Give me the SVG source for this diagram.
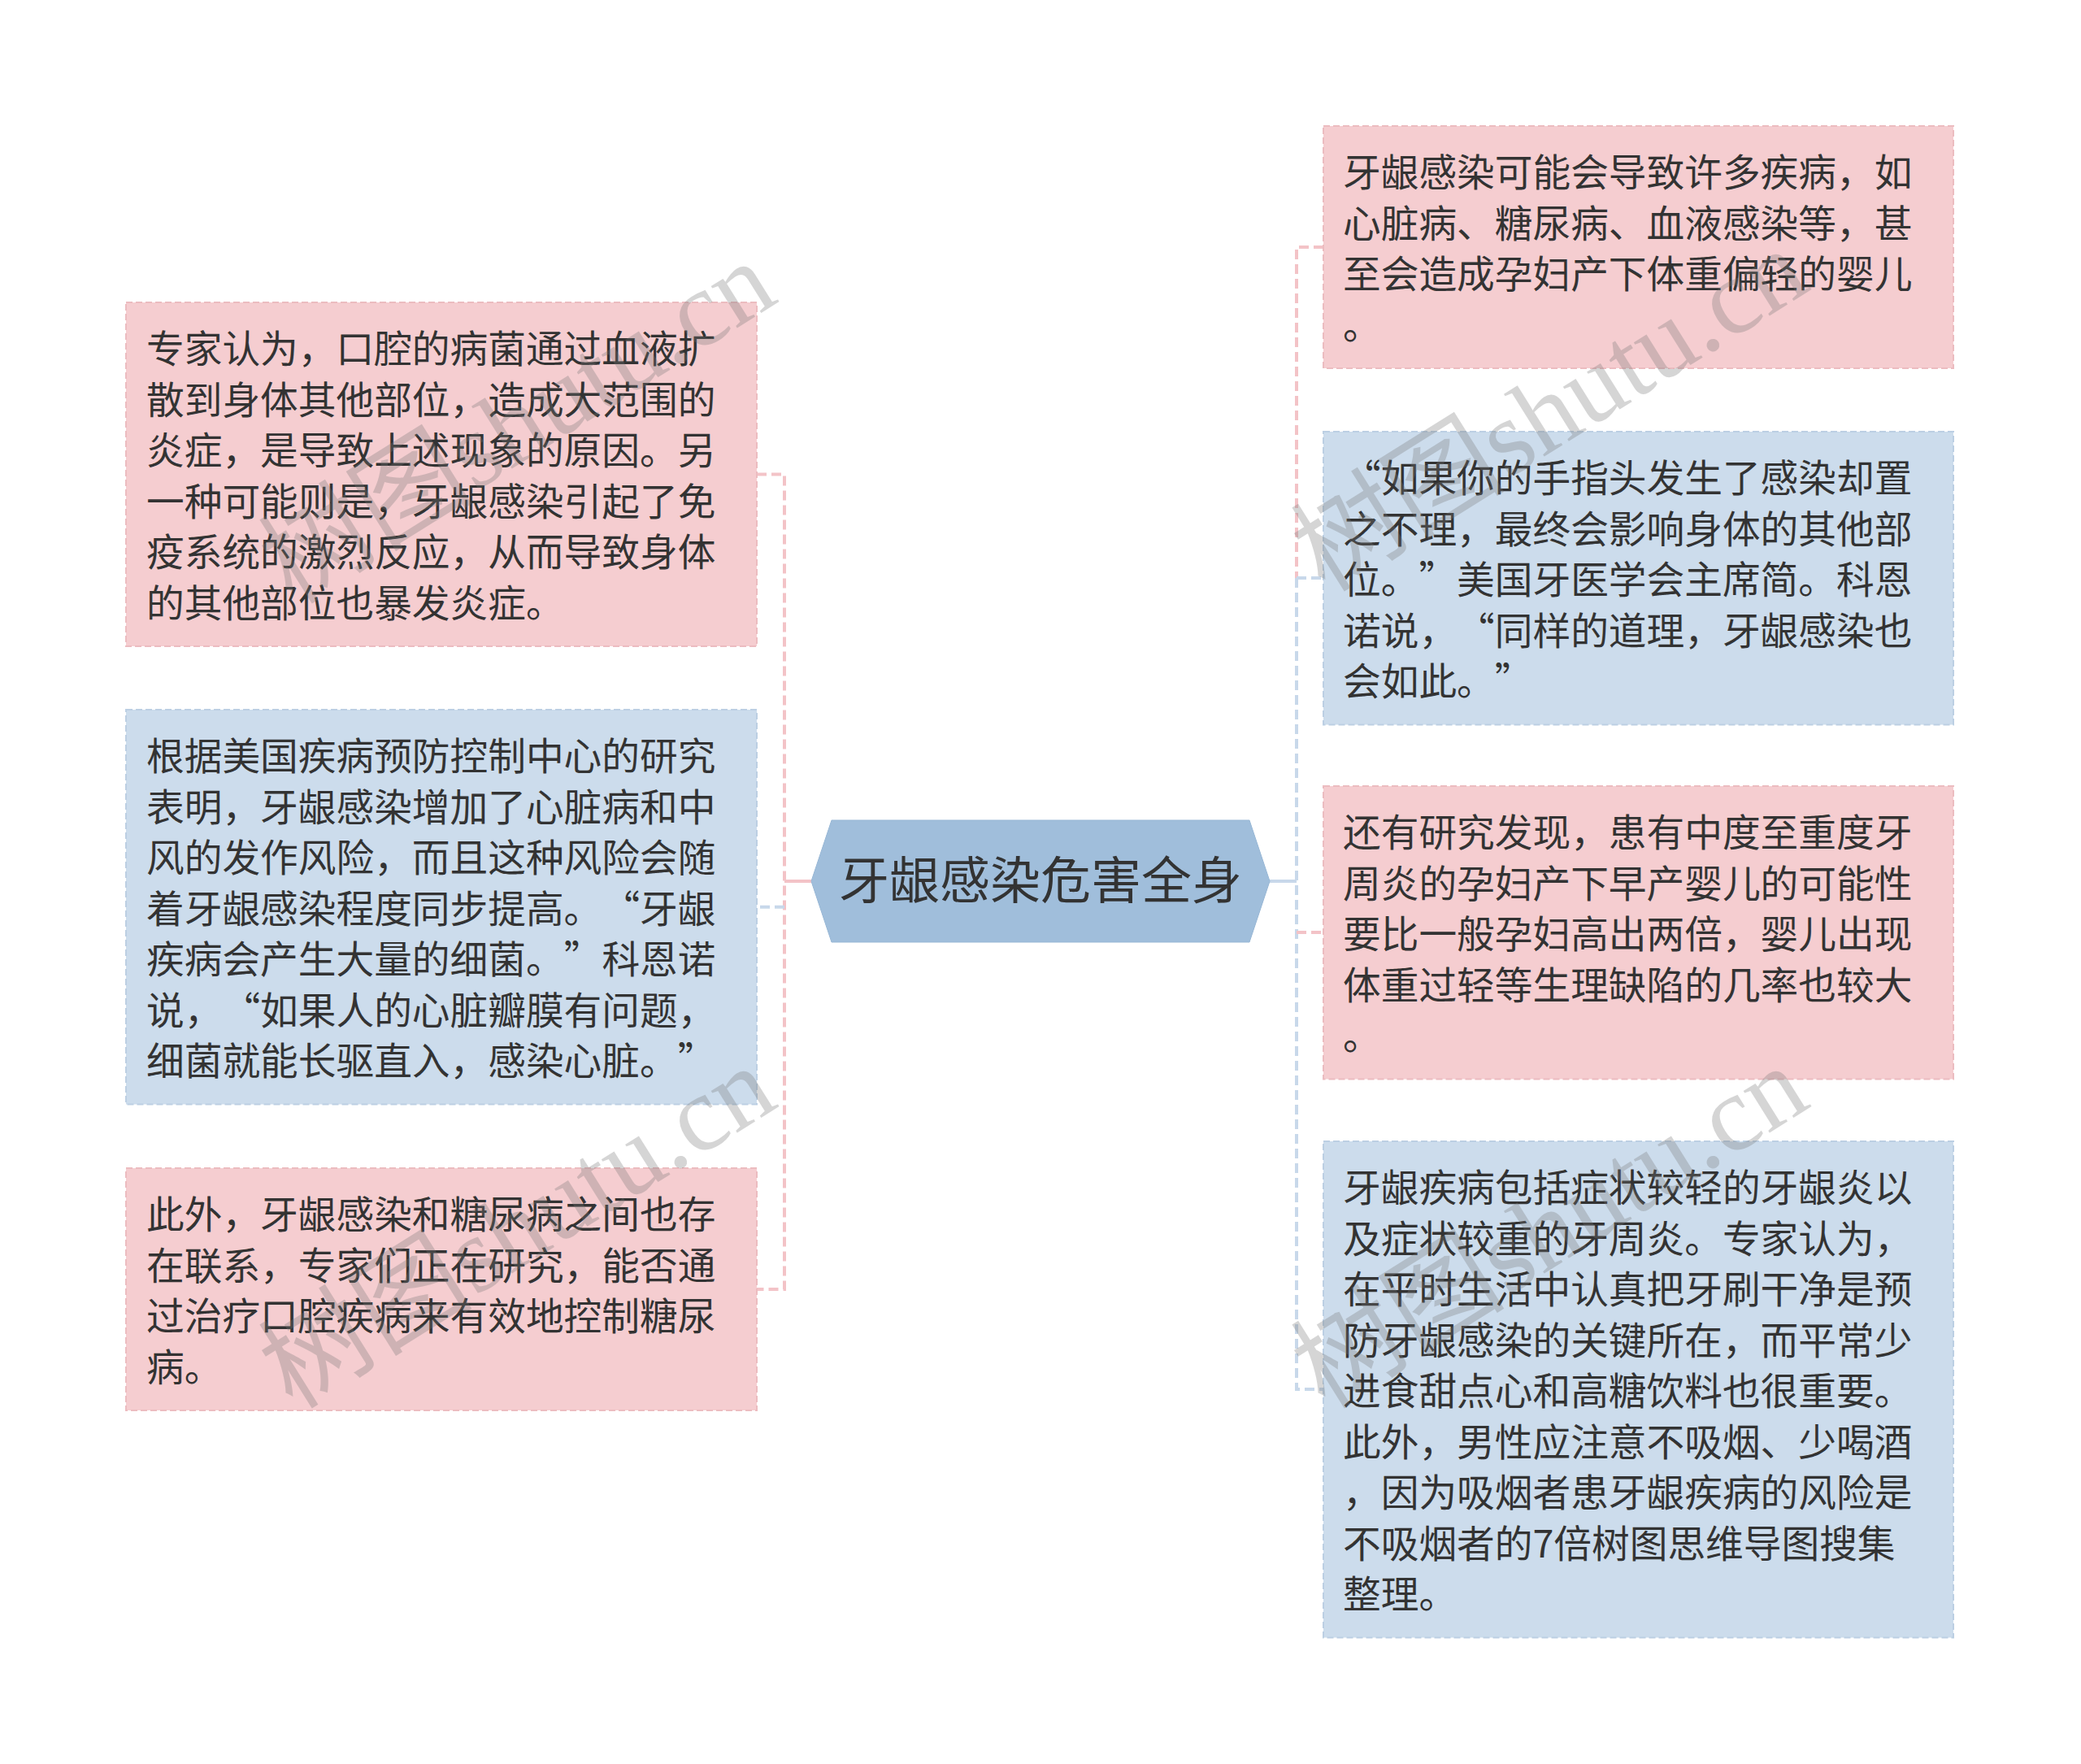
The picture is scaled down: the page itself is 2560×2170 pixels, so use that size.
<svg xmlns="http://www.w3.org/2000/svg" width="2560" height="2170" viewBox="0 0 2560 2170">
<style>
.t{font-family:"Noto Sans CJK SC","Noto Sans",sans-serif;font-size:46.7px;fill:#333}
.ct{font-family:"Noto Sans CJK SC","Noto Sans",sans-serif;font-size:62px;fill:#333}
.pk{fill:#f5cdd0;stroke:#ecbcc0;stroke-width:2;stroke-dasharray:8 4}
.bl{fill:#ccdcec;stroke:#bccfe3;stroke-width:2;stroke-dasharray:8 4}
.cp{fill:none;stroke:#f3c3c7;stroke-width:4;stroke-dasharray:12 6}
.cb{fill:none;stroke:#c8d8ea;stroke-width:4;stroke-dasharray:12 6}
.sp{fill:none;stroke:#f3c3c7;stroke-width:4}
.sb{fill:none;stroke:#c8d8ea;stroke-width:4}
.wm{font-family:"Liberation Serif","Noto Sans CJK SC",serif;font-size:132px;fill:#777;opacity:0.3}
</style>
<rect width="2560" height="2170" fill="#fff"/>

<g id="connectors">
  <path class="sp" d="M998 1084 H965"/>
  <path class="cp" d="M931 583.5 H965 V1586 H931"/>
  <path class="cb" d="M965 1115.75 H931"/>
  <path class="sb" d="M1562 1084 H1595"/>
  <path class="cp" d="M1628 304 H1595 V711"/>
  <path class="cb" d="M1595 711 V1709 H1628"/>
  <path class="cb" d="M1595 711 H1628"/>
  <path class="cp" d="M1595 1147 H1628"/>
</g>

<g id="center">
  <polygon points="998,1084 1023,1009 1537,1009 1562,1084 1537,1159 1023,1159" fill="#a0bedb" stroke="#98b7d5" stroke-width="1"/>
  <text class="ct" x="1280" y="1106" text-anchor="middle">牙龈感染危害全身</text>
</g>

<g id="node-l1">
  <rect class="pk" x="155" y="372" width="776" height="423"/>
  <text class="t" x="180" y="446">
    <tspan x="180">专家认为，口腔的病菌通过血液扩</tspan>
    <tspan x="180" dy="62.5">散到身体其他部位，造成大范围的</tspan>
    <tspan x="180" dy="62.5">炎症，是导致上述现象的原因。另</tspan>
    <tspan x="180" dy="62.5">一种可能则是，牙龈感染引起了免</tspan>
    <tspan x="180" dy="62.5">疫系统的激烈反应，从而导致身体</tspan>
    <tspan x="180" dy="62.5">的其他部位也暴发炎症。</tspan>
  </text>
</g>

<g id="node-l2">
  <rect class="bl" x="155" y="873" width="776" height="485.5"/>
  <text class="t">
    <tspan x="180" y="947">根据美国疾病预防控制中心的研究</tspan>
    <tspan x="180" y="1009.5">表明，牙龈感染增加了心脏病和中</tspan>
    <tspan x="180" y="1072">风的发作风险，而且这种风险会随</tspan>
    <tspan x="180" y="1134.5">着牙龈感染程度同步提高。</tspan><tspan x="740.4" y="1134.5">“</tspan><tspan x="787.1" y="1134.5">牙龈</tspan>
    <tspan x="180" y="1197">疾病会产生大量的细菌。</tspan><tspan x="693.7" y="1197">”</tspan><tspan x="740.4" y="1197">科恩诺</tspan>
    <tspan x="180" y="1259.5">说，</tspan><tspan x="273.4" y="1259.5">“</tspan><tspan x="320.1" y="1259.5">如果人的心脏瓣膜有问题，</tspan>
    <tspan x="180" y="1322">细菌就能长驱直入，感染心脏。</tspan><tspan x="833.8" y="1322">”</tspan>
  </text>
</g>

<g id="node-l3">
  <rect class="pk" x="155" y="1437" width="776" height="298"/>
  <text class="t" x="180" y="1511">
    <tspan x="180">此外，牙龈感染和糖尿病之间也存</tspan>
    <tspan x="180" dy="62.5">在联系，专家们正在研究，能否通</tspan>
    <tspan x="180" dy="62.5">过治疗口腔疾病来有效地控制糖尿</tspan>
    <tspan x="180" dy="62.5">病。</tspan>
  </text>
</g>

<g id="node-r1">
  <rect class="pk" x="1628" y="155" width="775" height="298"/>
  <text class="t" x="1652" y="229">
    <tspan x="1652">牙龈感染可能会导致许多疾病，如</tspan>
    <tspan x="1652" dy="62.5">心脏病、糖尿病、血液感染等，甚</tspan>
    <tspan x="1652" dy="62.5">至会造成孕妇产下体重偏轻的婴儿</tspan>
    <tspan x="1652" dy="62.5">。</tspan>
  </text>
</g>

<g id="node-r2">
  <rect class="bl" x="1628" y="531" width="775" height="360.5"/>
  <text class="t">
    <tspan x="1652" y="605">“</tspan><tspan x="1698.7" y="605">如果你的手指头发生了感染却置</tspan>
    <tspan x="1652" y="667.5">之不理，最终会影响身体的其他部</tspan>
    <tspan x="1652" y="730">位。</tspan><tspan x="1745.4" y="730">”</tspan><tspan x="1792.1" y="730">美国牙医学会主席简。科恩</tspan>
    <tspan x="1652" y="792.5">诺说，</tspan><tspan x="1792.1" y="792.5">“</tspan><tspan x="1838.8" y="792.5">同样的道理，牙龈感染也</tspan>
    <tspan x="1652" y="855">会如此。</tspan><tspan x="1838.8" y="855">”</tspan>
  </text>
</g>

<g id="node-r3">
  <rect class="pk" x="1628" y="967" width="775" height="360.5"/>
  <text class="t" x="1652" y="1041">
    <tspan x="1652">还有研究发现，患有中度至重度牙</tspan>
    <tspan x="1652" dy="62.5">周炎的孕妇产下早产婴儿的可能性</tspan>
    <tspan x="1652" dy="62.5">要比一般孕妇高出两倍，婴儿出现</tspan>
    <tspan x="1652" dy="62.5">体重过轻等生理缺陷的几率也较大</tspan>
    <tspan x="1652" dy="62.5">。</tspan>
  </text>
</g>

<g id="node-r4">
  <rect class="bl" x="1628" y="1404" width="775" height="610.5"/>
  <text class="t" x="1652" y="1478">
    <tspan x="1652">牙龈疾病包括症状较轻的牙龈炎以</tspan>
    <tspan x="1652" dy="62.5">及症状较重的牙周炎。专家认为，</tspan>
    <tspan x="1652" dy="62.5">在平时生活中认真把牙刷干净是预</tspan>
    <tspan x="1652" dy="62.5">防牙龈感染的关键所在，而平常少</tspan>
    <tspan x="1652" dy="62.5">进食甜点心和高糖饮料也很重要。</tspan>
    <tspan x="1652" dy="62.5">此外，男性应注意不吸烟、少喝酒</tspan>
    <tspan x="1652" dy="62.5">，因为吸烟者患牙龈疾病的风险是</tspan>
    <tspan x="1652" dy="62.5">不吸烟者的7倍树图思维导图搜集</tspan>
    <tspan x="1652" dy="62.5">整理。</tspan>
  </text>
</g>

<g id="watermarks">
  <text class="wm" transform="translate(360 745) rotate(-32)">树图shutu.cn</text>
  <text class="wm" transform="translate(360 1735) rotate(-32)">树图shutu.cn</text>
  <text class="wm" transform="translate(1630 730) rotate(-32)">树图shutu.cn</text>
  <text class="wm" transform="translate(1630 1735) rotate(-32)">树图shutu.cn</text>
</g>
</svg>
